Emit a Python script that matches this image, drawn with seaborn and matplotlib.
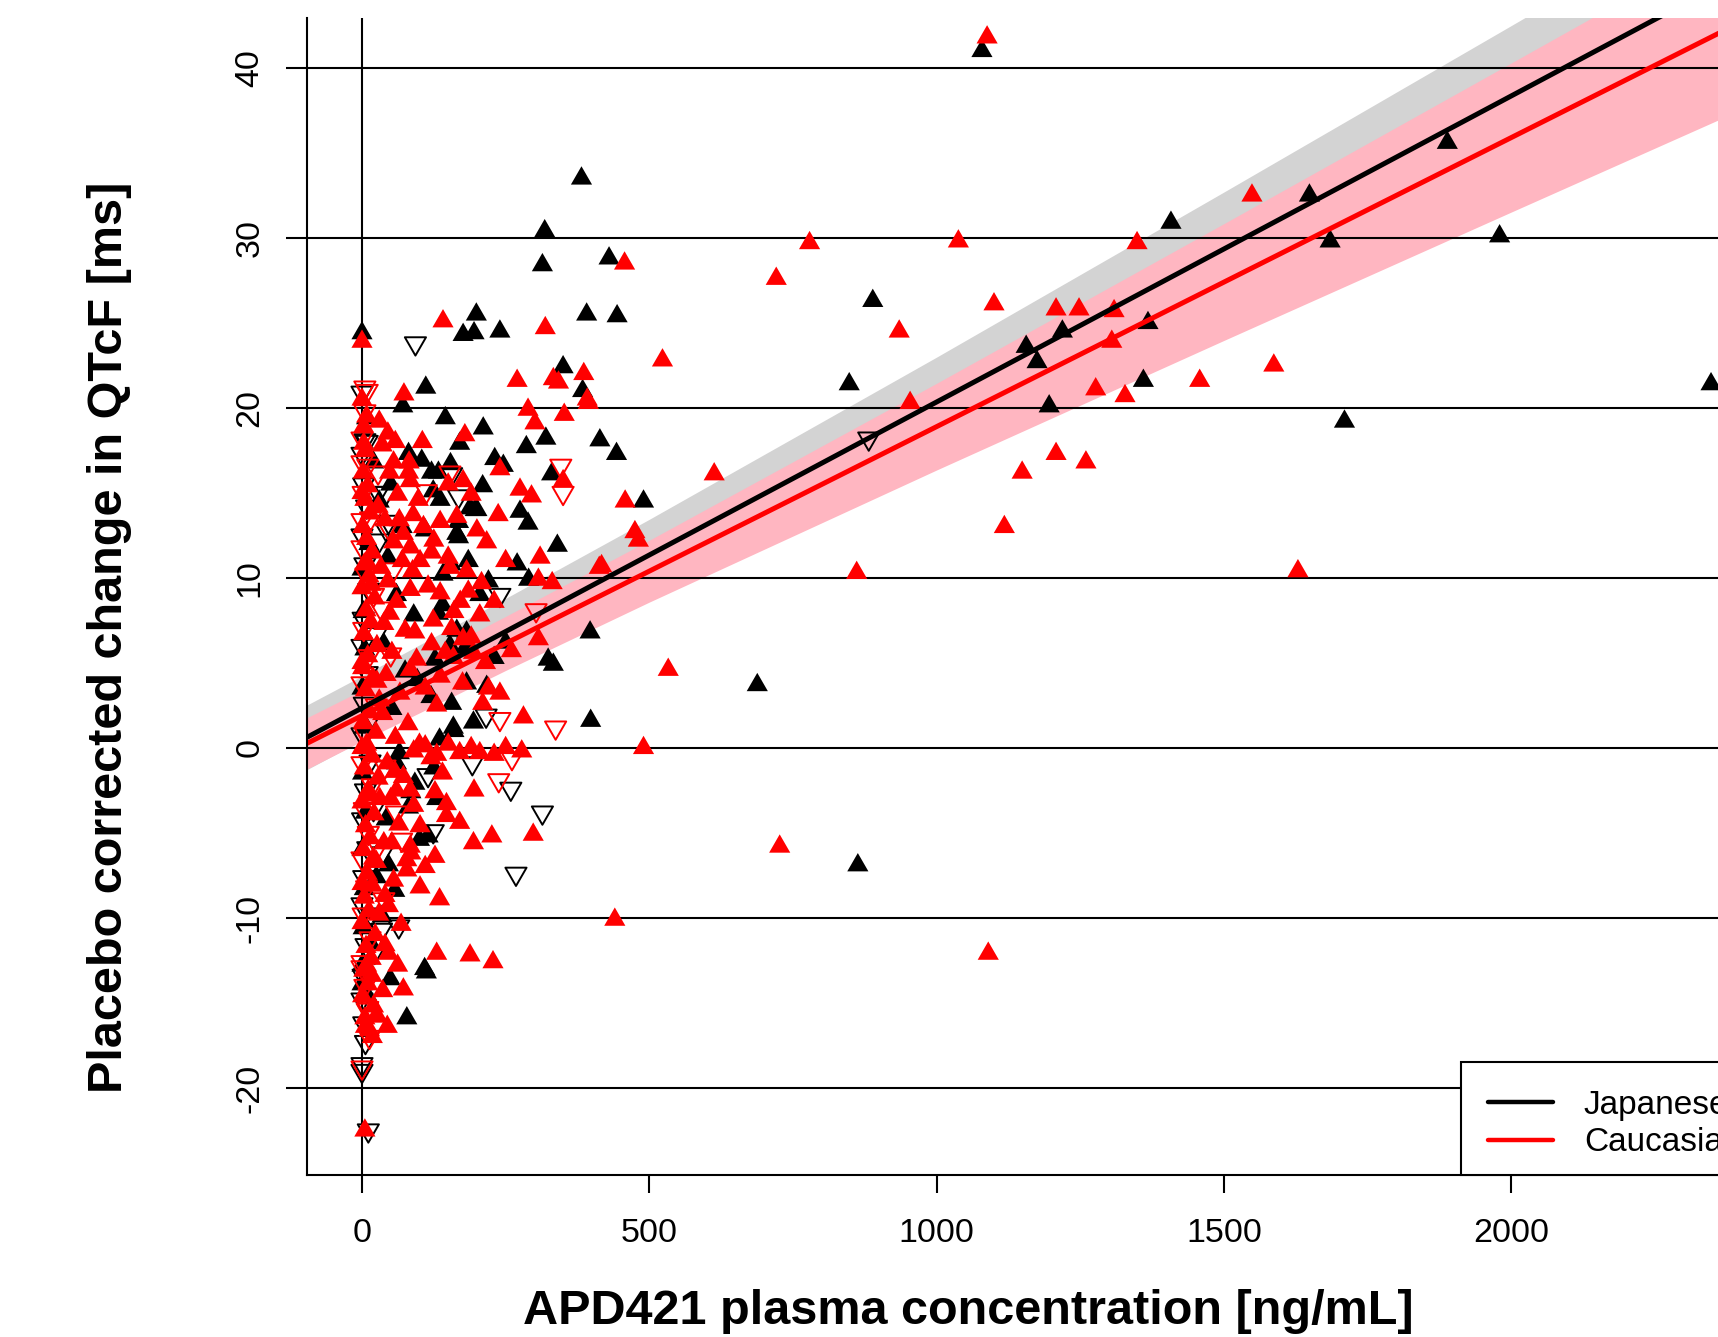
import numpy as np
import pandas as pd
import matplotlib
matplotlib.use("Agg")
import matplotlib.pyplot as plt
import seaborn as sns
from matplotlib.lines import Line2D
from matplotlib.legend_handler import HandlerLine2D
from matplotlib.markers import MarkerStyle
from matplotlib.path import Path

# ---------------- data ----------------
x_ticks = [0, 500, 1000, 1500, 2000]
y_ticks = [-20, -10, 0, 10, 20, 30, 40]
group_labels = ["Japanese", "Caucasian"]

# Japanese, filled up-triangles (concentration, placebo-corrected dQTcF)
jp_filled = [
    (1079, 41.0), (382, 33.5), (318, 30.4), (314, 28.4), (430, 28.8), (199, 25.5), (176, 24.3),
    (195, 24.4), (240, 24.5), (391, 25.5), (444, 25.4), (350, 22.4), (384, 21.0), (111, 21.2),
    (71, 20.1), (0, 24.4), (8, 19.4), (145, 19.4), (211, 18.8), (170, 17.9), (414, 18.1),
    (443, 17.3), (286, 17.7), (320, 18.2), (231, 17.0), (246, 16.6), (81, 17.3), (104, 16.9),
    (154, 16.7), (133, 16.2), (330, 16.1), (490, 14.5), (210, 15.4), (124, 15.1), (188, 14.1),
    (275, 13.9), (289, 13.2), (168, 13.3), (168, 12.4), (340, 11.9), (185, 11.0), (397, 6.8),
    (324, 5.2), (333, 4.9), (141, 10.2), (398, 1.6), (688, 3.7), (889, 26.3), (848, 21.4),
    (863, -6.9), (1156, 23.6), (1175, 22.7), (1219, 24.5), (1196, 20.1), (1408, 30.9),
    (1649, 32.5), (1685, 29.8), (1710, 19.2), (1360, 21.6), (1368, 25.0), (1889, 35.6),
    (1980, 30.1), (2348, 21.4),
    (156, 2.6), (194, 1.5), (159, 1.2), (60, -0.9), (115, -5.2), (109, -13.0), (78, -15.9),
    (46, -6.9), (57, -8.4), (49, -13.6), (81, -3.5), (92, -2.1), (112, -13.2),
    (0, 10.5), (2, 8.0), (5, 5.8), (0, 3.5), (3, 1.2), (1, -1.5), (6, -3.8), (0, -6.0),
    (4, -8.3), (2, -10.6), (0, -12.8), (8, -14.5), (30, 14.5), (45, 11.2), (60, 9.0),
    (38, 6.1), (75, 4.5), (52, 2.3), (90, 7.8), (110, 12.8), (65, -0.3), (85, -2.6),
    (42, -4.2), (100, -5.4), (120, 3.0), (140, 8.4), (155, 10.8), (130, -3.0), (180, 5.9),
    (200, 14.0), (220, 9.8), (250, 6.2), (270, 10.8), (290, 9.9), (160, 1.0), (20, 16.8),
    (12, 12.0), (25, -7.6), (15, -11.5), (35, -9.9), (0, -13.9), (96, 4.0), (135, 0.5),
    (70, 13.0), (50, 15.5), (205, 9.0), (230, 5.3), (125, -1.2),
    (121, 16.2), (136, 14.6), (165, 12.6), (197, 14.0), (133, 7.9), (165, 6.9), (182, 6.8),
    (153, 6.0), (127, 5.2), (182, 3.8), (217, 3.6),
]

# Japanese, open down-triangles
jp_open = [
    (93, 23.8), (0, 20.9), (9, 18.0), (5, 18.1), (0, 17.3), (28, 15.0), (42, 15.0), (46, 13.3),
    (156, 16.1), (168, 14.8), (240, 9.0), (43, 12.8), (882, 18.2), (216, 1.9), (192, -0.9),
    (259, -2.4), (314, -3.8), (268, -7.4), (64, -10.5), (0, -19.0), (11, -22.5), (3, -16.2),
    (115, -1.6), (124, -4.9), (34, -10.7),
    (3, 15.5), (8, 14.2), (0, 12.5), (5, 10.8), (12, 9.3), (2, 7.6), (0, 6.0), (9, 4.4),
    (4, 2.6), (0, 0.8), (14, -0.8), (6, -2.5), (1, -4.2), (10, -5.9), (3, -7.6), (0, -9.2),
    (16, -9.8), (7, -11.6), (2, -13.4), (0, -14.8), (20, -3.6), (25, 6.7), (30, 12.2),
    (35, -6.2), (18, 1.9), (22, -12.0), (0, -18.6), (6, -17.3),
]

# Caucasian, filled up-triangles
ca_filled = [
    (1088, 41.8), (779, 29.7), (721, 27.6), (1038, 29.8), (1100, 26.1), (935, 24.5), (954, 20.3),
    (1549, 32.5), (1349, 29.7), (1208, 25.8), (1248, 25.8), (1309, 25.7), (1305, 23.9),
    (1277, 21.1), (1328, 20.7), (1458, 21.6), (1587, 22.5), (1149, 16.2), (1208, 17.3),
    (1260, 16.8), (1118, 13.0), (1629, 10.4), (861, 10.3), (613, 16.1), (523, 22.8), (457, 28.5),
    (319, 24.7), (386, 22.0), (392, 20.5), (141, 25.1), (413, 10.6), (458, 14.5), (475, 12.7),
    (481, 12.2), (533, 4.6), (490, 0.0), (727, -5.8), (440, -10.1), (1090, -12.1), (228, -12.6),
    (188, -12.2), (130, -12.1), (72, -14.2), (194, -5.6), (226, -5.2), (298, -5.1), (147, -3.3),
    (147, -4.0), (101, -8.2), (127, -6.4), (5, -22.5), (0, 23.9), (73, 20.8), (8, 19.5),
    (270, 21.6), (333, 21.7), (342, 21.5), (394, 20.3), (289, 19.9), (301, 19.1), (352, 19.6),
    (179, 18.4), (240, 16.4), (55, 16.8), (81, 16.2), (84, 15.7), (150, 15.5), (176, 15.7),
    (190, 14.9), (237, 13.7), (275, 15.2), (295, 14.8), (350, 15.7), (217, 12.1), (310, 11.2),
    (307, 9.9), (417, 10.7), (331, 9.7), (208, 9.7), (220, 3.5), (260, 5.7), (307, 6.4),
    (89, 13.7), (107, 13.0), (136, 13.3), (72, 12.6), (84, 11.8), (121, 11.5), (101, 11.0),
    (153, 10.6), (182, 10.4), (84, 9.3), (136, 9.1), (171, 8.6), (205, 7.8), (124, 7.5),
    (156, 7.0), (176, 6.4), (92, 6.8), (121, 6.1), (159, 5.3), (194, 5.6), (84, 4.6),
    (136, 4.2), (281, 1.8), (205, -0.3), (278, -0.2), (60, -2.5), (84, -2.5), (127, -2.6),
    (101, -4.6), (84, -5.8), (78, -7.2), (40, -8.7), (46, -12.1), (17, -13.4),
    (90, -0.2), (110, 0.1), (130, -0.4), (150, 0.2), (170, -0.3), (190, 0.0), (230, -0.4),
    (250, 0.0),
    (0, 20.5), (3, 18.9), (6, 17.5), (2, 16.2), (10, 15.4), (5, 14.6), (14, 13.8), (1, 13.0),
    (8, 12.3), (18, 11.5), (4, 10.8), (12, 10.1), (0, 9.4), (22, 8.8), (7, 8.1), (15, 7.4),
    (3, 6.7), (26, 6.0), (10, 5.4), (1, 4.7), (19, 4.1), (6, 3.4), (30, 2.8), (13, 2.1),
    (2, 1.5), (24, 0.9), (8, 0.2), (17, -0.5), (4, -1.2), (28, -1.8), (11, -2.5), (0, -3.2),
    (21, -3.9), (6, -4.6), (14, -5.3), (2, -6.0), (25, -6.7), (9, -7.4), (18, -8.1), (4, -8.8),
    (12, -9.6), (0, -10.3), (23, -11.0), (7, -11.7), (16, -12.4), (3, -13.1), (10, -13.9),
    (1, -14.6), (20, -15.2), (5, -15.9), (13, -16.6), (8, -12.8), (0, 0.0), (0, 5.0),
    (0, 15.0), (0, -8.0),
    (35, 17.8), (48, 16.2), (62, 14.9), (40, 13.4), (55, 12.1), (70, 11.0), (45, 9.8),
    (88, 10.4), (60, 8.6), (38, 7.3), (75, 6.9), (52, 5.6), (95, 5.2), (42, 4.3), (66, 3.2),
    (110, 3.5), (36, 2.0), (80, 1.4), (58, 0.6), (100, 0.2), (44, -0.9), (72, -1.7),
    (120, -0.6), (50, -3.0), (90, -3.4), (64, -4.5), (38, -5.6), (78, -6.6), (55, -7.8),
    (110, -7.0), (46, -9.3), (68, -10.4), (40, -11.6), (85, -6.2), (130, 2.5), (140, -1.5),
    (115, 9.5), (125, 12.2), (98, 14.6), (82, 16.8), (105, 18.0), (150, 11.2), (160, 8.0),
    (175, 3.8), (190, 6.5), (210, 2.6), (145, 5.6), (165, 13.6), (185, 9.2), (200, 12.8),
    (230, 8.6), (250, 11.0), (215, 5.0), (240, 3.2), (195, -2.5), (170, -4.4), (135, -8.9),
    (30, 19.2), (45, 18.5), (28, 14.2), (58, 18.0), (33, 10.6), (65, 13.4), (26, 3.9),
    (48, 7.9), (31, -3.0), (57, -1.4), (29, -9.8), (52, -5.6), (36, -14.3), (62, -12.8),
    (27, -15.8), (44, -16.4), (18, -17.0), (3, 17.9), (9, 10.9), (16, 9.6), (12, -2.8),
    (20, -6.5), (6, -16.4),
]

# Caucasian, open down-triangles
ca_open = [
    (9, 21.0), (346, 16.6), (350, 15.0), (303, 8.1), (337, 1.2), (240, 1.7), (238, -1.9),
    (261, -0.6), (13, -17.0), (0, -18.8), (5, 21.2), (0, 16.8), (28, 16.2), (112, 15.1),
    (153, 16.2), (0, 13.4), (69, -5.4), (9, -15.4), (0, -12.9),
    (5, 19.8), (0, 18.2), (10, 16.6), (2, 15.0), (15, 13.5), (0, 11.8), (7, 10.2), (20, 9.0),
    (3, 7.0), (12, 5.4), (0, 3.8), (25, 2.5), (6, 0.8), (0, -0.9), (18, -2.2), (4, -3.6),
    (11, -5.0), (0, -6.5), (28, -5.8), (8, -8.2), (2, -9.8), (14, -11.2), (0, -12.6),
    (5, -14.0), (10, -15.3), (33, 8.2), (40, -1.1), (45, 13.0), (38, -8.9), (50, 5.5),
    (60, -3.8), (55, 10.5),
]

# model fit and 90% CI band, read at a few concentrations
band_x = [-100, 0, 250, 500, 1000, 1500, 2000, 2500]
jp_fit = [0.55, 2.35, 6.85, 11.35, 20.35, 29.35, 38.35, 47.35]
jp_lo = [-1.35, 0.46, 4.91, 9.25, 17.71, 26.00, 34.21, 42.38]
jp_hi = [2.45, 4.24, 8.80, 13.45, 22.99, 32.70, 42.49, 52.32]
ca_fit = [0.20, 1.90, 6.15, 10.40, 18.90, 27.40, 35.90, 44.40]
ca_lo = [-1.31, 0.40, 4.56, 8.58, 16.35, 23.97, 31.52, 39.04]
ca_hi = [1.71, 3.40, 7.74, 12.22, 21.45, 30.84, 40.29, 49.76]

# ---------------- styling ----------------
sns.set_theme(style="white")
plt.rcParams["font.family"] = ["Liberation Sans", "DejaVu Sans"]
plt.rcParams["text.color"] = "black"
plt.rcParams["xtick.color"] = "black"
plt.rcParams["ytick.color"] = "black"
plt.rcParams["axes.edgecolor"] = "black"

W, H = 1718, 1337
fig = plt.figure(figsize=(W / 100, H / 100), dpi=100)
ax_l, ax_r, ax_t, ax_b = 307.3, 1784.0, 18.0, 1175.0
ax = fig.add_axes([ax_l / W, 1 - ax_b / H, (ax_r - ax_l) / W, (ax_b - ax_t) / H])
ax.set_facecolor("white")

# confidence bands
ax.fill_between(band_x, jp_lo, jp_hi, color="#D3D3D3", lw=0, zorder=1)
ax.fill_between(band_x, ca_lo, ca_hi, color="#FFB6C1", lw=0, zorder=1.1)

# reference lines
for v in y_ticks:
    ax.axhline(v, color="black", lw=1.5, zorder=2)
ax.axvline(0, color="black", lw=1.5, zorder=2)

# markers (equilateral triangles like R pch 17 / pch 6)
up = MarkerStyle(Path([(-1, -0.577), (1, -0.577), (0, 1.155), (-1, -0.577)],
                      [Path.MOVETO, Path.LINETO, Path.LINETO, Path.CLOSEPOLY]))
down = MarkerStyle(Path([(-1, 0.577), (1, 0.577), (0, -1.155), (-1, 0.577)],
                        [Path.MOVETO, Path.LINETO, Path.LINETO, Path.CLOSEPOLY]))


def frame(pts):
    return pd.DataFrame(pts, columns=["conc", "dqtcf"])


S = 310
sns.scatterplot(data=frame(jp_open), x="conc", y="dqtcf", marker=down, s=S, color="black",
                facecolor="none", edgecolor="black", linewidth=1.4, ax=ax, zorder=3, legend=False)
sns.scatterplot(data=frame(jp_filled), x="conc", y="dqtcf", marker=up, s=S, color="black",
                edgecolor="none", linewidth=0, ax=ax, zorder=3, legend=False)
sns.scatterplot(data=frame(ca_open), x="conc", y="dqtcf", marker=down, s=S, color="red",
                facecolor="none", edgecolor="red", linewidth=1.4, ax=ax, zorder=3, legend=False)
sns.scatterplot(data=frame(ca_filled), x="conc", y="dqtcf", marker=up, s=S, color="red",
                edgecolor="none", linewidth=0, ax=ax, zorder=3, legend=False)

# regression lines
sns.lineplot(x=band_x, y=jp_fit, color="black", lw=3.6, ax=ax, zorder=4, errorbar=None, legend=False)
sns.lineplot(x=band_x, y=ca_fit, color="red", lw=3.6, ax=ax, zorder=4, errorbar=None, legend=False)

ax.set_xlim(-95.2, 2475)
ax.set_ylim(-25.12, 42.94)

# axes / ticks
for s in ["top", "right"]:
    ax.spines[s].set_visible(False)
for s in ["left", "bottom"]:
    ax.spines[s].set_color("black")
    ax.spines[s].set_linewidth(1.5)
    ax.spines[s].set_zorder(5)

ax.set_xticks(x_ticks, labels=[str(v) for v in x_ticks])
ax.set_yticks(y_ticks, labels=[str(v) for v in y_ticks])
ax.tick_params(axis="x", bottom=True, length=13, width=1.5, pad=35.3, labelsize=24.5,
               direction="out")
ax.tick_params(axis="y", left=True, length=15.1, width=1.5, pad=20.2, labelsize=24.5,
               direction="out")
for lab in ax.get_xticklabels():
    lab.set_va("baseline")
for lab in ax.get_yticklabels():
    lab.set_rotation(90)
    lab.set_rotation_mode("anchor")
    lab.set_ha("center")
    lab.set_va("baseline")
ax.set_xlabel("")
ax.set_ylabel("")

# legend
handles = [Line2D([], [], color="black", lw=3.2), Line2D([], [], color="red", lw=3.2)]
leg = ax.legend(handles, group_labels, loc="lower left",
                bbox_to_anchor=((1460.6 - ax_l) / (ax_r - ax_l), 0.0), borderaxespad=0,
                fontsize=24, frameon=True, fancybox=False, edgecolor="black", framealpha=1,
                borderpad=0.5, labelspacing=0.2, handlelength=2.28, handletextpad=0.92,
                title=" ", title_fontsize=3,
                handler_map={Line2D: HandlerLine2D(xpad=0.33)})
leg.get_frame().set_linewidth(1.5)
leg.set_zorder(6)

# axis titles
fig.text(968 / W, 1 - 1323.6 / H, "APD421 plasma concentration [ng/mL]", ha="center",
         va="baseline", fontsize=35, fontweight="bold")
fig.text(121.6 / W, 1 - 637 / H, "Placebo corrected change in QTcF [ms]", rotation=90,
         rotation_mode="anchor", ha="center", va="baseline", fontsize=35, fontweight="bold")

fig.savefig("out.png", dpi=100)
